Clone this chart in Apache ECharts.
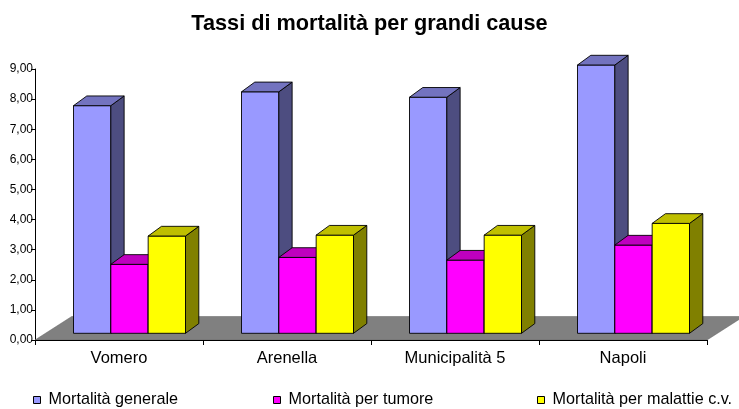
<!DOCTYPE html>
<html>
<head>
<meta charset="utf-8">
<script src="https://cdn.jsdelivr.net/npm/echarts@6/dist/echarts.min.js"></script>
<style>html,body{margin:0;padding:0;background:#fff;}#chart{width:739px;height:409px;}</style>
</head>
<body>
<div id="chart"></div>
<script>
const categories = ['Vomero', 'Arenella', 'Municipalità 5', 'Napoli'];
const seriesNames = ['Mortalità generale', 'Mortalità per tumore', 'Mortalità per malattie c.v.'];
const mortalitaGenerale = [7.56, 8.02, 7.84, 8.91];
const mortalitaTumore = [2.29, 2.52, 2.43, 2.93];
const mortalitaCV = [3.23, 3.26, 3.26, 3.65];
const yTicks = [0, 1, 2, 3, 4, 5, 6, 7, 8, 9];

const FONT = "'Liberation Sans', Arial, sans-serif";
const faces = [
  { front: '#9999FF', side: '#4D4D80', top: '#7373BF' },
  { front: '#FF00FF', side: '#800080', top: '#BF00BF' },
  { front: '#FFFF00', side: '#808000', top: '#BFBF00' }
];
const FRONT_DX = 10.5, FRONT_DY = -6.7;   // bar front plane offset from axis plane
const DEPTH_DX = 13.3, DEPTH_DY = -9.7;   // bar depth
const FLOOR_DX = 36.7, FLOOR_DY = -23.5;  // floor depth

function barRenderer(s) {
  return function (params, api) {
    const ci = api.value(0), v = api.value(1);
    const base = api.coord([ci, 0]);
    const topPt = api.coord([ci, v]);
    const band = api.size([1, 0])[0];
    const bw = band * 2 / 9;
    const x0 = base[0] - band / 3 + s * bw + FRONT_DX;
    const yb = base[1] + FRONT_DY;
    const yt = topPt[1] + FRONT_DY;
    const c = faces[s];
    const st = { stroke: '#000', lineWidth: 0.9 };
    return {
      type: 'group',
      children: [
        { type: 'rect', shape: { x: x0, y: yt, width: bw, height: yb - yt },
          style: Object.assign({ fill: c.front }, st) },
        { type: 'polygon', shape: { points: [[x0 + bw, yt], [x0 + bw + DEPTH_DX, yt + DEPTH_DY], [x0 + bw + DEPTH_DX, yb + DEPTH_DY], [x0 + bw, yb]] },
          style: Object.assign({ fill: c.side }, st) },
        { type: 'polygon', shape: { points: [[x0, yt], [x0 + DEPTH_DX, yt + DEPTH_DY], [x0 + bw + DEPTH_DX, yt + DEPTH_DY], [x0 + bw, yt]] },
          style: Object.assign({ fill: c.top }, st) }
      ]
    };
  };
}

function floorRenderer(params, api) {
  const cs = params.coordSys;
  const yb = cs.y + cs.height;
  return {
    type: 'polygon',
    shape: { points: [[cs.x, yb], [cs.x + cs.width, yb], [cs.x + cs.width + FLOOR_DX, yb + FLOOR_DY], [cs.x + FLOOR_DX, yb + FLOOR_DY]] },
    style: { fill: '#808080', stroke: '#606060', lineWidth: 0.5 }
  };
}

const allValues = [mortalitaGenerale, mortalitaTumore, mortalitaCV];
const barSeries = allValues.map((vals, s) => ({
  name: seriesNames[s],
  type: 'custom',
  renderItem: barRenderer(s),
  data: vals.map((v, i) => [i, v]),
  encode: { x: 0, y: 1 },
  itemStyle: { color: faces[s].front, borderColor: '#000', borderWidth: 1 },
  z: 3,
  clip: false
}));

const legendLefts = [33, 273, 537];
const chart = echarts.init(document.getElementById('chart'), null, { renderer: 'canvas' });
chart.setOption({
  animation: false,
  backgroundColor: '#fff',
  title: {
    text: 'Tassi di mortalità per grandi cause',
    left: 'center', top: 8,
    textStyle: { fontFamily: FONT, fontSize: 21.7, fontWeight: 'bold', color: '#000' }
  },
  legend: seriesNames.map((n, i) => ({
    data: [n],
    left: legendLefts[i], top: 392, padding: 0,
    icon: 'rect', itemWidth: 7, itemHeight: 7, itemGap: 4,
    itemStyle: { borderColor: '#000', borderWidth: 1 },
    textStyle: { fontFamily: FONT, fontSize: 16.2, color: '#000', padding: [0, 0, 0, 3] },
    selectedMode: false
  })),
  grid: { left: 35, right: 32, top: 69, bottom: 69, containLabel: false },
  xAxis: {
    type: 'category',
    data: categories,
    boundaryGap: true,
    z: 5,
    axisLine: { lineStyle: { color: '#000', width: 1 } },
    axisTick: { show: true, length: 5, lineStyle: { color: '#000' } },
    axisLabel: { fontFamily: FONT, fontSize: 16.5, color: '#000', margin: 10 },
    splitLine: { show: false }
  },
  yAxis: {
    type: 'value',
    min: yTicks[0], max: yTicks[yTicks.length - 1], interval: 1,
    axisLine: { show: true, lineStyle: { color: '#000', width: 1 } },
    axisTick: { show: true, length: 4, lineStyle: { color: '#000' } },
    axisLabel: { fontFamily: FONT, fontSize: 12, color: '#000', margin: 2,
      formatter: v => v.toFixed(2).replace('.', ',') },
    splitLine: { show: false }
  },
  series: [{
    name: 'floor', type: 'custom', renderItem: floorRenderer,
    data: [[0, 0]], encode: { x: 0, y: 1 }, z: 1, silent: true, clip: false
  }].concat(barSeries)
});
</script>
</body>
</html>
